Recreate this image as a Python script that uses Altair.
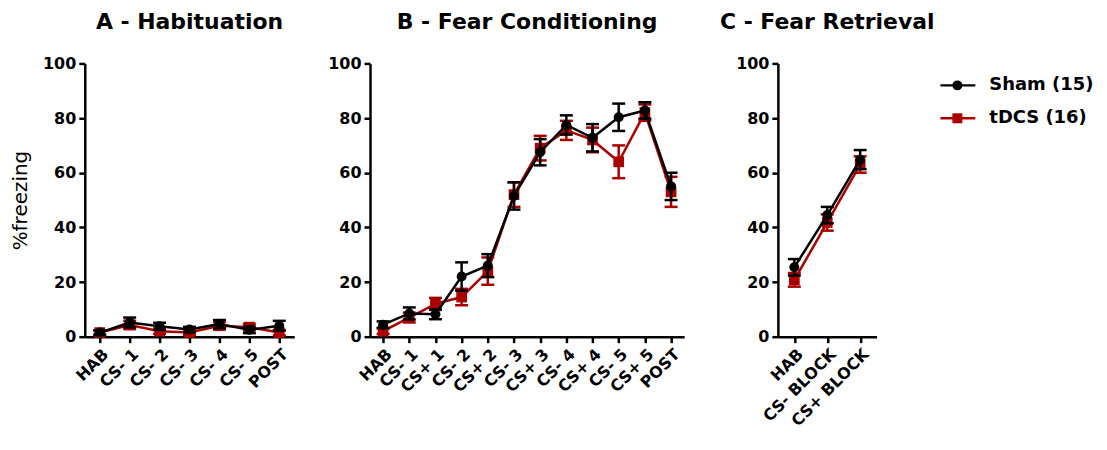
import altair as alt
import pandas as pd

GROUPS = ["Sham (15)", "tDCS (16)"]
COLORS = ["#000000", "#AA0000"]
SHAPES = ["circle", "square"]

A_CATS = ["HAB", "CS- 1", "CS- 2", "CS- 3", "CS- 4", "CS- 5", "POST"]
A_SHAM = [1.5, 5.2, 3.8, 2.6, 4.6, 2.5, 4.0]
A_SHAM_SEM = [0.8, 1.8, 1.3, 1.0, 1.5, 1.2, 1.8]
A_TDCS = [1.5, 4.3, 2.0, 1.5, 4.0, 3.5, 1.5]
A_TDCS_SEM = [0.8, 1.5, 1.0, 0.8, 1.4, 1.2, 1.0]

B_CATS = ["HAB", "CS- 1", "CS+ 1", "CS- 2", "CS+ 2", "CS- 3", "CS+ 3",
          "CS- 4", "CS+ 4", "CS- 5", "CS+ 5", "POST"]
B_SHAM = [4.4, 8.5, 8.2, 22.0, 26.0, 51.5, 67.5, 77.5, 72.8, 80.3, 82.8, 55.0]
B_SHAM_SEM = [1.2, 2.2, 1.8, 5.2, 4.2, 5.0, 4.8, 3.5, 5.0, 5.0, 3.0, 5.0]
B_TDCS = [2.0, 7.0, 12.0, 14.5, 24.0, 52.0, 69.0, 75.5, 72.0, 64.0, 82.0, 53.0]
B_TDCS_SEM = [1.0, 1.8, 2.2, 3.0, 5.0, 4.5, 4.5, 3.5, 4.5, 6.0, 3.0, 5.5]

C_CATS = ["HAB", "CS- BLOCK", "CS+ BLOCK"]
C_SHAM = [25.4, 44.5, 64.8]
C_SHAM_SEM = [3.0, 3.0, 3.5]
C_TDCS = [20.8, 41.8, 63.0]
C_TDCS_SEM = [2.5, 3.0, 3.0]

Y_TICKS = [0, 20, 40, 60, 80, 100]
FONT = "DejaVu Sans"
H = 274


def group_df(cats, means, sems, group):
    return pd.DataFrame({
        "cat": cats,
        "group": group,
        "mean": means,
        "lo": [m - s for m, s in zip(means, sems)],
        "hi": [m + s for m, s in zip(means, sems)],
    })


color = alt.Color("group:N", scale=alt.Scale(domain=GROUPS, range=COLORS), legend=None)
shape = alt.Shape("group:N", scale=alt.Scale(domain=GROUPS, range=SHAPES), legend=None)


def data_layers(cats, sham, sham_sem, tdcs, tdcs_sem, y_title):
    x = alt.X("cat:N", sort=cats, scale=alt.Scale(type="point", padding=0.5),
              axis=alt.Axis(title=None, labelAngle=-45, labelFontSize=16))
    yaxis = alt.Axis(values=Y_TICKS, title=y_title if y_title else None,
                     titleFontWeight="normal", titleFontSize=20, titlePadding=12)
    yscale = alt.Scale(domain=[0, 100], nice=False, zero=True)
    layers = []
    for g, m, s in [(GROUPS[1], tdcs, tdcs_sem), (GROUPS[0], sham, sham_sem)]:
        base = alt.Chart(group_df(cats, m, s, g))
        err = base.mark_rule(strokeWidth=2.5, opacity=1).encode(
            x=x, y=alt.Y("lo:Q", scale=yscale, axis=yaxis), y2="hi:Q", color=color)
        cap_lo = base.mark_tick(size=13, thickness=2.5, opacity=1).encode(
            x=x, y=alt.Y("lo:Q", scale=yscale), color=color)
        cap_hi = base.mark_tick(size=13, thickness=2.5, opacity=1).encode(
            x=x, y=alt.Y("hi:Q", scale=yscale), color=color)
        line = base.mark_line(strokeWidth=2.5, opacity=1).encode(
            x=x, y=alt.Y("mean:Q", scale=yscale), color=color)
        pts = base.mark_point(filled=True, opacity=1, size=100 if g == GROUPS[0] else 115).encode(
            x=x, y=alt.Y("mean:Q", scale=yscale), color=color, shape=shape)
        layers += [err, cap_lo, cap_hi, line, pts]
    return alt.layer(*layers)


def titled(chart, title, width):
    return chart.properties(
        width=width, height=H,
        title=alt.TitleParams(title, fontSize=22, font=FONT, fontWeight="bold",
                              anchor="middle", offset=22, color="black"),
    )


pa = titled(data_layers(A_CATS, A_SHAM, A_SHAM_SEM, A_TDCS, A_TDCS_SEM, "%freezing"),
            "A - Habituation", 210)
pb = titled(data_layers(B_CATS, B_SHAM, B_SHAM_SEM, B_TDCS, B_TDCS_SEM, None),
            "B - Fear Conditioning", 315)

# legend drawn to the right of panel C
leg_df = pd.DataFrame({"group": GROUPS})
leg_y = alt.Y("group:N", axis=None, scale=alt.Scale(domain=GROUPS, range=[5.5, 71.5]))
lb = alt.Chart(leg_df)
legend = alt.layer(
    lb.mark_rule(strokeWidth=2.5, opacity=1).encode(x=alt.value(163), x2=alt.value(198),
                                                    y=leg_y, color=color),
    lb.mark_point(filled=True, opacity=1, size=100).encode(x=alt.value(180), y=leg_y,
                                                           color=color, shape=shape),
    lb.mark_text(align="left", baseline="middle", font=FONT, fontWeight="bold",
                 fontSize=18, color="black").encode(x=alt.value(212), y=leg_y, text="group:N"),
)
pc = titled(alt.layer(data_layers(C_CATS, C_SHAM, C_SHAM_SEM, C_TDCS, C_TDCS_SEM, None),
                      legend).resolve_scale(y="independent"),
            "C - Fear Retrieval", 99)

inner1 = alt.hconcat(pa, pb, spacing=33)
chart = alt.hconcat(inner1, pc, spacing=35).properties(
    padding={"left": 2, "top": 2, "right": 5, "bottom": 5}
).configure_view(stroke=None).configure_axis(
    domainColor="black", domainWidth=2.5, tickColor="black", tickWidth=2.5, tickSize=6,
    labelFont=FONT, labelFontWeight="bold", labelFontSize=16, labelColor="black",
    titleFont=FONT, titleColor="black", grid=False, labelPadding=3,
)

chart.save("out.html", embed_options={"renderer": "svg", "actions": False})
